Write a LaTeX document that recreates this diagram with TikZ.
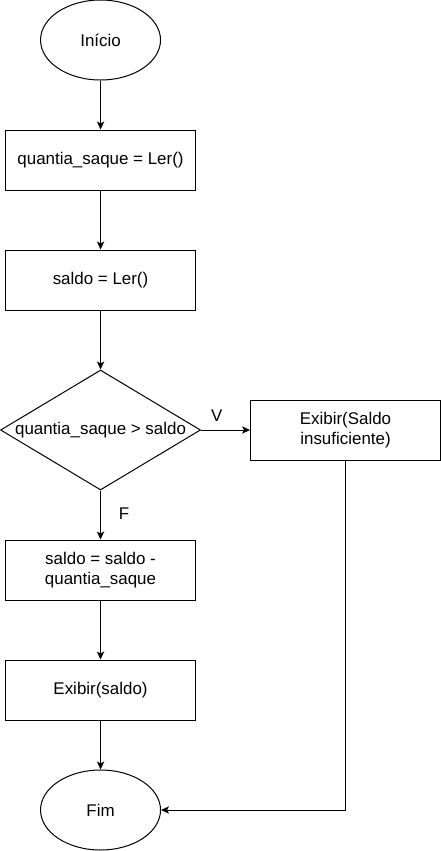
\documentclass[tikz,border=0pt]{standalone}
\usepackage{fontspec}
\setmainfont{Liberation Sans}
\usetikzlibrary{shapes,arrows.meta,positioning}

\begin{document}
\begin{tikzpicture}[>={Stealth[length=6pt,width=5.5pt,inset=1.5pt]}, line width=0.75pt, font=\fontsize{12.7}{15}\selectfont,
        terminal/.style={ellipse, draw, minimum width=90pt, minimum height=60pt, inner sep=0pt},
        procbox/.style={rectangle, draw, minimum width=142.5pt, minimum height=45pt, align=center},
        decision/.style={diamond, draw, aspect=1.667, minimum width=150pt, minimum height=90pt, inner sep=0pt}]
        \useasboundingbox (0,0) rectangle (330.75pt,-638.25pt);

        % Nodes
        \node[terminal] (inicio) at (75.4pt,-30pt) {Início};

        \node[procbox, below of=inicio, node distance=90pt] (lerquantia) {quantia\_saque = Ler()};

        \node[procbox, below of=lerquantia, node distance=90pt] (lersaldo) {saldo = Ler()};

        \node[decision, below of=lersaldo, node distance=112.5pt] (teste) {quantia\_saque > saldo};

        \node[procbox, right of=teste, node distance=183.75pt] (insuf) {Exibir(Saldo\\insuficiente)};

        \node[procbox, below of=teste, node distance=105pt] (desconto) {saldo = saldo -\\quantia\_saque};

        \node[procbox, below of=desconto, node distance=90pt] (exibir) {Exibir(saldo)};

        \node[terminal, below of=exibir, node distance=90pt] (fim) {Fim};

        % Arrows
        \draw[->] (inicio) -- (lerquantia);
        \draw[->] (lerquantia) -- (lersaldo);
        \draw[->] (lersaldo) -- (teste);

        % V: saldo insuficiente
        \draw[->] (teste.east) -- node[pos=0.32, above=3pt] {V} (insuf.west);

        % F: saque feito
        \draw[->] (teste.south) -- node[pos=0.48, right=10pt] {F} (desconto.north);
        \draw[->] (desconto) -- (exibir);
        \draw[->] (exibir) -- (fim);

        % back to the end
        \draw[->] (insuf.south) |- (fim.east);
    \end{tikzpicture}
\end{document}
